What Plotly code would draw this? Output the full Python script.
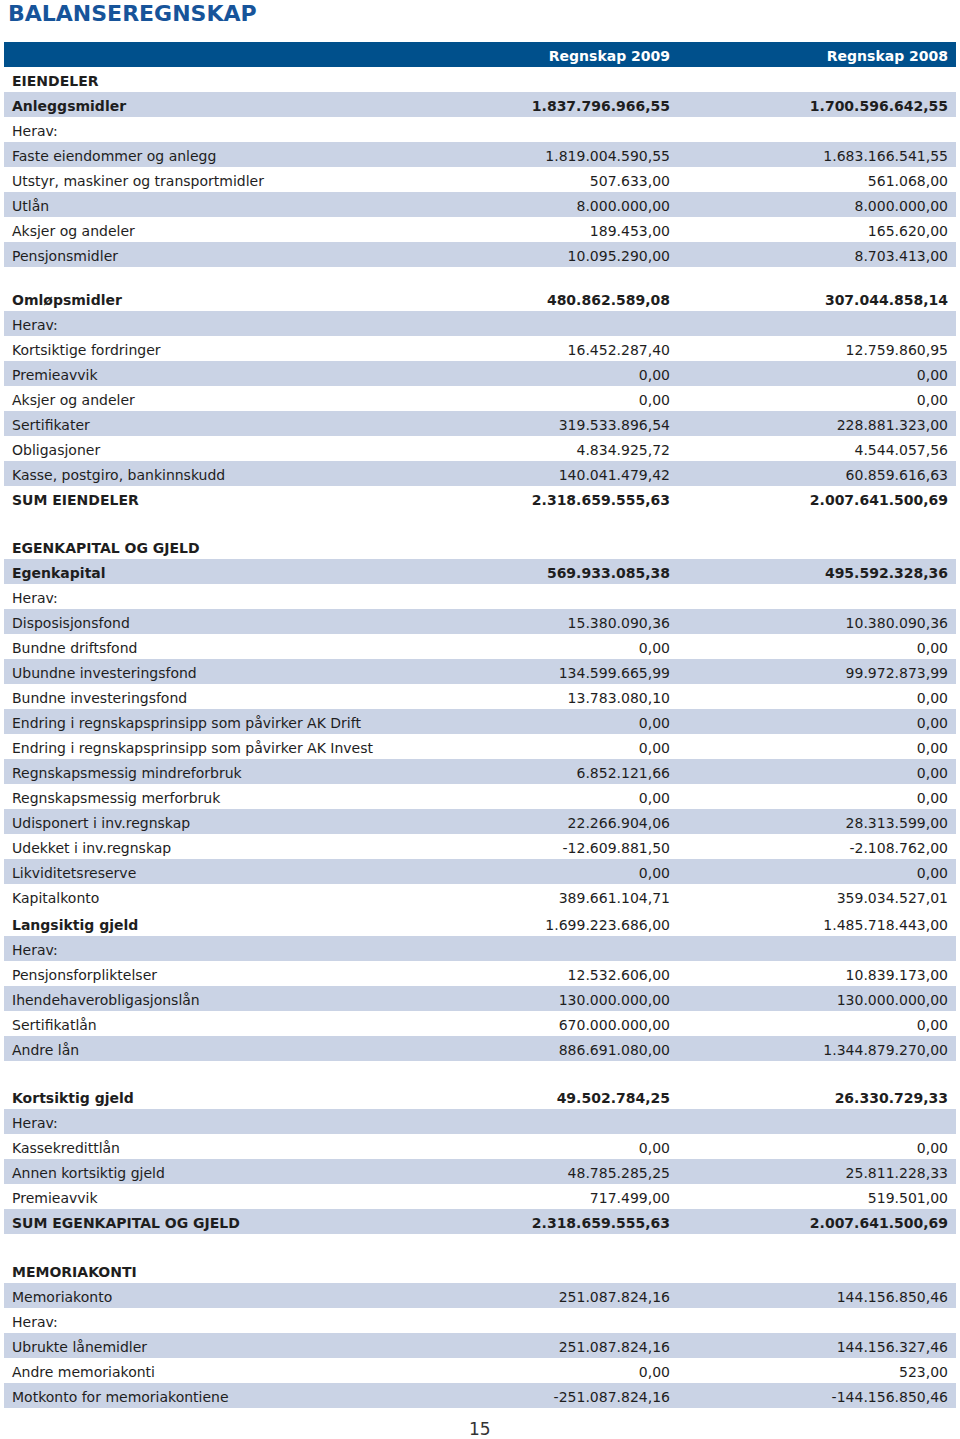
import plotly.graph_objects as go
import plotly.io as pio

TITLE = "BALANSEREGNSKAP"
COLUMNS = ["Regnskap 2009", "Regnskap 2008"]
PAGE = "15"

labels = [
    "EIENDELER", "Anleggsmidler", "Herav:", "Faste eiendommer og anlegg",
    "Utstyr, maskiner og transportmidler", "Utlån", "Aksjer og andeler", "Pensjonsmidler",
    "Omløpsmidler", "Herav:", "Kortsiktige fordringer", "Premieavvik", "Aksjer og andeler",
    "Sertifikater", "Obligasjoner", "Kasse, postgiro, bankinnskudd", "SUM EIENDELER",
    "EGENKAPITAL OG GJELD", "Egenkapital", "Herav:", "Disposisjonsfond", "Bundne driftsfond",
    "Ubundne investeringsfond", "Bundne investeringsfond",
    "Endring i regnskapsprinsipp som påvirker AK Drift",
    "Endring i regnskapsprinsipp som påvirker AK Invest",
    "Regnskapsmessig mindreforbruk", "Regnskapsmessig merforbruk",
    "Udisponert i inv.regnskap", "Udekket i inv.regnskap", "Likviditetsreserve", "Kapitalkonto",
    "Langsiktig gjeld", "Herav:", "Pensjonsforpliktelser", "Ihendehaverobligasjonslån",
    "Sertifikatlån", "Andre lån",
    "Kortsiktig gjeld", "Herav:", "Kassekredittlån", "Annen kortsiktig gjeld", "Premieavvik",
    "SUM EGENKAPITAL OG GJELD",
    "MEMORIAKONTI", "Memoriakonto", "Herav:", "Ubrukte lånemidler", "Andre memoriakonti",
    "Motkonto for memoriakontiene",
]

v2009 = [
    None, 1837796966.55, None, 1819004590.55, 507633.00, 8000000.00, 189453.00, 10095290.00,
    480862589.08, None, 16452287.40, 0.0, 0.0, 319533896.54, 4834925.72, 140041479.42, 2318659555.63,
    None, 569933085.38, None, 15380090.36, 0.0, 134599665.99, 13783080.10, 0.0, 0.0,
    6852121.66, 0.0, 22266904.06, -12609881.50, 0.0, 389661104.71,
    1699223686.00, None, 12532606.00, 130000000.00, 670000000.00, 886691080.00,
    49502784.25, None, 0.0, 48785285.25, 717499.00, 2318659555.63,
    None, 251087824.16, None, 251087824.16, 0.0, -251087824.16,
]

v2008 = [
    None, 1700596642.55, None, 1683166541.55, 561068.00, 8000000.00, 165620.00, 8703413.00,
    307044858.14, None, 12759860.95, 0.0, 0.0, 228881323.00, 4544057.56, 60859616.63, 2007641500.69,
    None, 495592328.36, None, 10380090.36, 0.0, 99972873.99, 0.0, 0.0, 0.0,
    0.0, 0.0, 28313599.00, -2108762.00, 0.0, 359034527.01,
    1485718443.00, None, 10839173.00, 130000000.00, 0.0, 1344879270.00,
    26330729.33, None, 0.0, 25811228.33, 519501.00, 2007641500.69,
    None, 144156850.46, None, 144156327.46, 523.00, -144156850.46,
]

SECTION_SIZES = [8, 9, 15, 6, 6, 6]

# ---- styling ----
BOLD_ALL = {"EIENDELER", "Anleggsmidler", "Omløpsmidler", "SUM EIENDELER",
            "EGENKAPITAL OG GJELD", "Egenkapital", "Kortsiktig gjeld",
            "SUM EGENKAPITAL OG GJELD", "MEMORIAKONTI"}
BOLD_LABEL = {"Langsiktig gjeld"}

W, H = 960, 1439
ROW_H = 25
FIRST_TOP = 42
GAPS = [19, 23, 2, 23, 24]
X0, X1 = 4, 956
COLW = [396, 278, 278]
BLUE = "#00508c"
TITLE_BLUE = "#17549a"
BAND = "#cad3e5"
TXT = "#1e1e1e"
FONT = "DejaVu Sans"


def fmt(v):
    if v is None:
        return ""
    s = f"{abs(v):,.2f}".replace(",", "X").replace(".", ",").replace("X", ".")
    return ("-" if v < 0 else "") + s


fig = go.Figure()
cell_weights = []

start = 0
top = FIRST_TOP
for si, n in enumerate(SECTION_SIZES):
    idx = list(range(start, start + n))
    col_lab, col_a, col_b, fills = [], [], [], []
    w_lab, w_val = [], []
    for k, i in enumerate(idx):
        lab = labels[i]
        col_lab.append(lab)
        col_a.append(fmt(v2009[i]))
        col_b.append(fmt(v2008[i]))
        fills.append("white" if k % 2 == 0 else BAND)
        w_lab.append("bold" if (lab in BOLD_ALL or lab in BOLD_LABEL) else "normal")
        w_val.append("bold" if lab in BOLD_ALL else "normal")

    if si == 0:
        header = dict(values=["", COLUMNS[0], COLUMNS[1]],
                      fill_color=BLUE, line=dict(width=0, color=BLUE),
                      align=["left", "right", "right"], height=ROW_H,
                      font=dict(family=FONT, size=14, color="white", weight="bold"))
        cells_vals = [col_lab, col_a, col_b]
        cell_fill = fills
        weights = [w_lab, w_val, w_val]
        nrows = n + 1
    else:
        header = dict(values=[col_lab[0], col_a[0], col_b[0]],
                      fill_color=fills[0], line=dict(width=0, color="white"),
                      align=["left", "right", "right"], height=ROW_H,
                      font=dict(family=FONT, size=14, color=TXT,
                                weight=[w_lab[0], w_val[0], w_val[0]]))
        cells_vals = [col_lab[1:], col_a[1:], col_b[1:]]
        cell_fill = fills[1:]
        weights = [w_lab[1:], w_val[1:], w_val[1:]]
        nrows = n
    cell_weights.append(weights)

    bottom = top + nrows * ROW_H
    fig.add_trace(go.Table(
        domain=dict(x=[X0 / W, X1 / W], y=[1 - (bottom + 3) / H, 1 - top / H]),
        columnwidth=COLW,
        header=header,
        cells=dict(values=cells_vals,
                   fill_color=[cell_fill] * 3,
                   line=dict(width=0, color="white"),
                   align=["left", "right", "right"], height=ROW_H,
                   font=dict(family=FONT, size=14, color=TXT)),
    ))
    if si < len(GAPS):
        top = bottom + GAPS[si]
    start += n

fig.add_annotation(text=f"<b>{TITLE}</b>", x=6 / W, y=1 + 1 / H, xref="paper", yref="paper",
                   xanchor="left", yanchor="top", showarrow=False,
                   font=dict(family=FONT, size=22, color=TITLE_BLUE))
fig.add_annotation(text=PAGE, x=0.5, y=1 - 1417 / H, xref="paper", yref="paper",
                   xanchor="center", yanchor="top", showarrow=False,
                   font=dict(family=FONT, size=17, color="#333333"))

fig.update_layout(width=W, height=H, margin=dict(l=0, r=0, t=0, b=0),
                  paper_bgcolor="white", plot_bgcolor="white")

fig_dict = fig.to_dict()
for tr, wts in zip(fig_dict["data"], cell_weights):
    tr["cells"]["font"]["weight"] = wts

pio.write_html(fig_dict, "out.html", validate=False, config={"displayModeBar": False},
               post_script="document.body.style.margin='0';document.body.style.padding='0';")
